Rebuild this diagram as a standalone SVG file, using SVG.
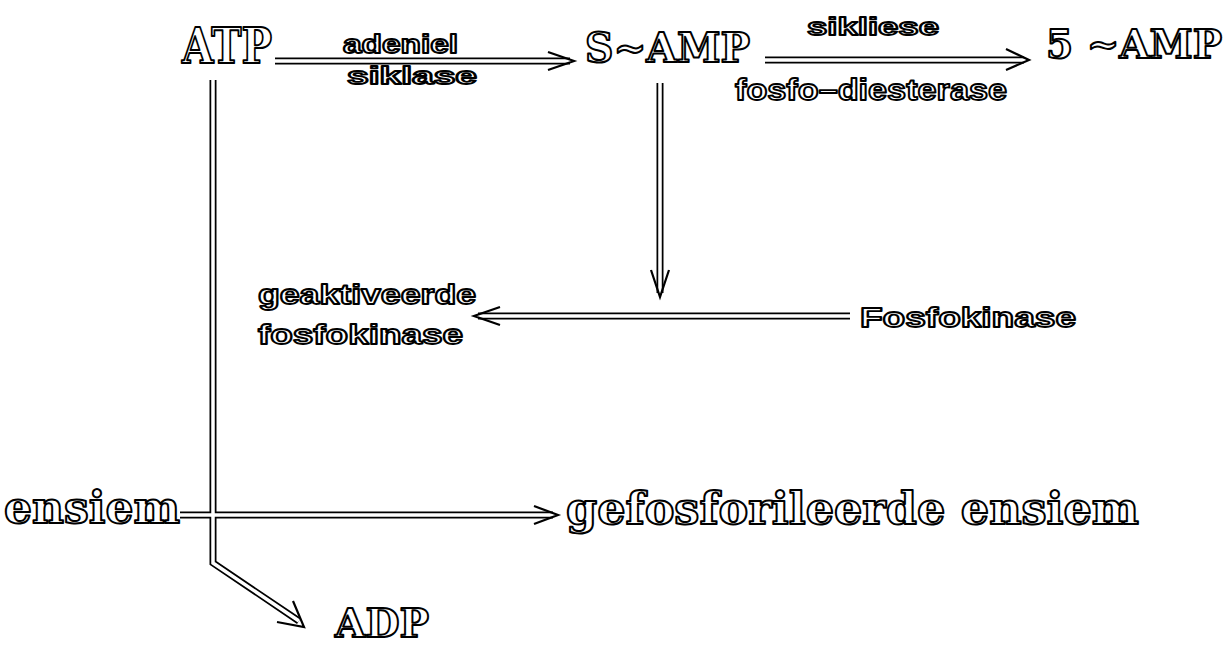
<svg xmlns="http://www.w3.org/2000/svg" xmlns:xlink="http://www.w3.org/1999/xlink" width="1230" height="649" viewBox="0 0 1230 649">
<style>
.big{font-family:"DejaVu Serif","Liberation Serif",serif;font-weight:bold;fill:#fff;stroke:#000;stroke-width:2;stroke-linejoin:round}
.lab{font-family:"Liberation Sans","DejaVu Sans",sans-serif;font-weight:bold;fill:#fff;stroke:#000;stroke-width:1.8;stroke-linejoin:round}
.shaftO{fill:none;stroke:#000;stroke-width:7}
.shaftI{fill:none;stroke:#fff;stroke-width:3.5}
.head{fill:none;stroke:#000;stroke-width:2.2;stroke-linejoin:miter}
</style>
<rect width="1230" height="649" fill="#fff"/>
<defs>
<path id="s1" d="M275 61 H570"/>
<path id="s2" d="M765 60 H1024"/>
<path id="s3" d="M660 83 V293"/>
<path id="s4" d="M850 316 H478"/>
<path id="s5" d="M213 80 V563 L299 621"/>
<path id="s6" d="M180 515 H553"/>
</defs>
<g id="connectors">
<use xlink:href="#s1" class="shaftO"/><use xlink:href="#s2" class="shaftO"/><use xlink:href="#s3" class="shaftO"/><use xlink:href="#s4" class="shaftO"/><use xlink:href="#s5" class="shaftO"/><use xlink:href="#s6" class="shaftO"/>
<use xlink:href="#s1" class="shaftI"/><use xlink:href="#s2" class="shaftI"/><use xlink:href="#s3" class="shaftI"/><use xlink:href="#s4" class="shaftI"/><use xlink:href="#s5" class="shaftI"/><use xlink:href="#s6" class="shaftI"/>
<polyline class="head" points="548,52 574,61 548,70"/>
<polyline class="head" points="1006,49 1029,60 1006,70"/>
<polyline class="head" points="651,270 660,297 669,270"/>
<polyline class="head" points="500,307 474,316 500,325"/>
<polyline class="head" points="293,601 304,627 277,622"/>
<polyline class="head" points="534,506 558,515 534,524"/>
</g>
<g id="atp"><text class="big" x="182" y="63" font-size="48" textLength="90" lengthAdjust="spacingAndGlyphs">ATP</text></g>
<g id="label-adeniel">
<text class="lab" x="343" y="53" font-size="25" textLength="115" lengthAdjust="spacingAndGlyphs">adeniel</text>
<text class="lab" x="347" y="84" font-size="23" textLength="130" lengthAdjust="spacingAndGlyphs">siklase</text>
</g>
<g id="samp"><text class="big" x="585" y="62" font-size="41" textLength="165" lengthAdjust="spacingAndGlyphs">S~AMP</text></g>
<g id="label-sikliese">
<text class="lab" x="807" y="35" font-size="24" textLength="132" lengthAdjust="spacingAndGlyphs">sikliese</text>
<text class="lab" x="735" y="100" font-size="30" textLength="272" lengthAdjust="spacingAndGlyphs">fosfo–diesterase</text>
</g>
<g id="amp5"><text class="big" x="1046" y="58" font-size="39" textLength="176" lengthAdjust="spacingAndGlyphs">5 ~AMP</text></g>
<g id="geaktiveerde">
<text class="lab" x="258" y="304" font-size="27" textLength="218" lengthAdjust="spacingAndGlyphs">geaktiveerde</text>
<text class="lab" x="258" y="344" font-size="27" textLength="205" lengthAdjust="spacingAndGlyphs">fosfokinase</text>
</g>
<g id="fosfokinase"><text class="lab" x="860" y="327" font-size="27" textLength="216" lengthAdjust="spacingAndGlyphs">Fosfokinase</text></g>
<g id="ensiem"><text class="big" x="4" y="523" font-size="44" textLength="176" lengthAdjust="spacingAndGlyphs">ensiem</text></g>
<g id="gefosforileerde"><text class="big" x="566" y="524" font-size="44" textLength="573" lengthAdjust="spacingAndGlyphs">gefosforileerde  ensiem</text></g>
<g id="adp"><text class="big" x="335" y="637" font-size="40" textLength="94" lengthAdjust="spacingAndGlyphs">ADP</text></g>
</svg>
